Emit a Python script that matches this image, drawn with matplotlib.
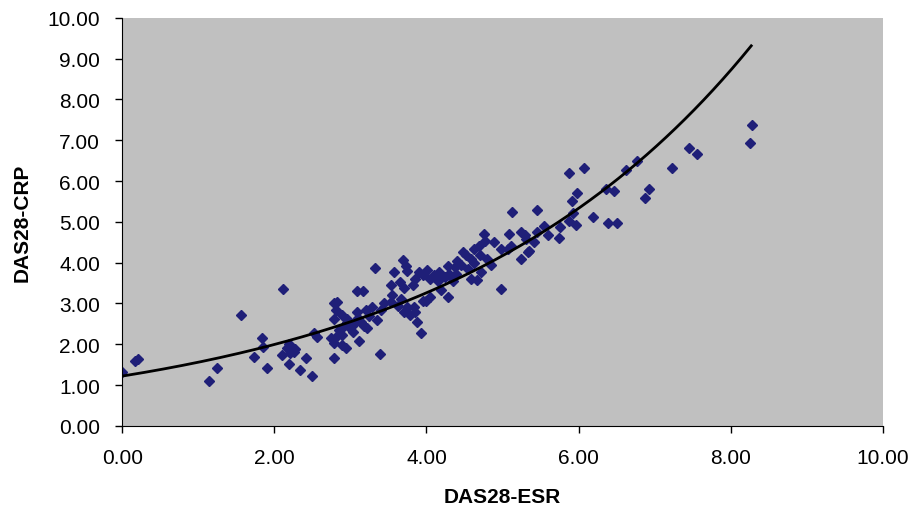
import numpy as np
import matplotlib
matplotlib.use("Agg")
import matplotlib.pyplot as plt
from matplotlib.ticker import FormatStrFormatter

plt.rcParams['font.family'] = ['Liberation Sans', 'DejaVu Sans']

# DAS28-ESR (x) vs DAS28-CRP (y)
esr = [0.00, 0.17, 0.21,
       1.14, 1.25, 1.56, 1.73, 1.84, 1.85, 1.91,
       2.11, 2.10, 2.19, 2.21, 2.27, 2.19, 2.17, 2.26, 2.34, 2.41, 2.50,
       2.52, 2.56,
       2.78, 2.74, 2.78, 2.89, 2.94, 3.11, 2.89, 3.00, 3.22, 3.14, 2.96, 2.89,
       2.78, 2.81, 2.78, 2.83, 3.09, 3.09, 3.17,
       2.85, 2.92, 3.05, 3.03, 2.82, 3.18, 2.95,
       3.29, 3.40, 3.44, 3.32, 3.39,
       3.53, 3.66, 3.55, 3.53, 3.65, 3.70, 3.57, 3.69, 3.73, 3.74, 3.82, 3.90,
       3.79, 3.75, 3.84, 3.88, 3.93,
       3.70, 3.62, 3.85, 3.95, 4.05, 4.00,
       4.01, 4.10, 4.17, 4.19, 4.28, 4.28, 4.37, 4.30, 4.39,
       4.48, 4.52, 4.58, 4.63, 4.69, 4.58, 4.67, 4.72,
       4.76, 4.77, 4.89, 4.98, 4.98,
       5.09, 5.11, 5.24, 5.31, 5.42, 5.46, 5.24, 5.33, 5.07, 5.30, 5.35,
       5.13, 5.46, 5.54, 5.75, 5.60, 5.74,
       5.87, 6.07, 5.98, 5.91, 5.93, 5.96, 5.88,
       6.19, 6.36, 6.47, 6.39, 6.50, 6.63, 6.77, 6.92, 6.87,
       7.23, 7.45, 7.56, 8.28, 8.25,
       4.45, 4.55, 4.62, 4.40, 4.80, 4.85, 4.70, 4.35, 4.25, 4.15, 4.05, 3.95, 3.85,
       3.25, 3.35, 3.20, 3.10]
crp = [1.33, 1.60, 1.63,
       1.11, 1.43, 2.71, 1.70, 2.15, 1.94, 1.43,
       3.35, 1.74, 2.00, 1.78, 1.89, 1.52, 1.90, 1.82, 1.37, 1.66, 1.23,
       2.27, 2.19,
       1.66, 2.15, 2.02, 1.98, 1.90, 2.07, 2.23, 2.39, 2.39, 2.55, 2.63, 2.72,
       2.63, 2.84, 3.00, 3.04, 2.80, 3.30, 3.30,
       2.35, 2.45, 2.50, 2.30, 2.20, 2.45, 2.55,
       2.92, 2.84, 3.00, 3.88, 1.76,
       3.04, 3.12, 3.20, 3.45, 3.53, 3.37, 3.77, 4.06, 3.93, 3.79, 3.45, 3.77,
       2.72, 2.92, 2.92, 2.55, 2.27,
       2.80, 2.95, 2.80, 3.05, 3.15, 3.05,
       3.81, 3.69, 3.77, 3.33, 3.16, 3.93, 3.89, 3.73, 3.73,
       4.26, 4.18, 4.10, 4.34, 4.42, 3.61, 3.57, 3.77,
       4.71, 4.54, 4.50, 4.34, 3.35,
       4.71, 4.42, 4.75, 4.59, 4.50, 4.75, 4.10, 4.26, 4.34, 4.67, 4.28,
       5.25, 5.29, 4.89, 4.87, 4.69, 4.60,
       6.19, 6.31, 5.71, 5.50, 5.22, 4.93, 5.03,
       5.11, 5.80, 5.76, 4.98, 4.98, 6.28, 6.48, 5.80, 5.59,
       6.31, 6.82, 6.66, 7.37, 6.93,
       3.95, 3.85, 4.00, 4.05, 4.10, 3.95, 4.20, 3.55, 3.65, 3.55, 3.60, 3.70, 3.60,
       2.70, 2.60, 2.85, 2.65]

# exponential trendline y = a * exp(b * x)
trend_a = 1.22
trend_b = 0.2458

fig = plt.figure(figsize=(9.12, 5.1), dpi=100)
ax = fig.add_axes([0.134, 0.163, 0.834, 0.8])
ax.set_facecolor('#c0c0c0')

ax.plot(esr, crp, linestyle='none', marker='D', ms=5.5, color='#1f1f78',
        markeredgecolor='#1f1f78')

xs = np.linspace(0, 8.27, 200)
ax.plot(xs, trend_a * np.exp(trend_b * xs), color='black', lw=2)

ax.set_xlim(0, 10)
ax.set_ylim(0, 10)
ax.set_xticks(np.arange(0, 11, 2))
ax.set_yticks(np.arange(0, 11, 1))
ax.xaxis.set_major_formatter(FormatStrFormatter('%.2f'))
ax.yaxis.set_major_formatter(FormatStrFormatter('%.2f'))
ax.tick_params(labelsize=15, length=5, width=1, color='black', pad=11)

ax.spines['top'].set_visible(False)
ax.spines['right'].set_visible(False)
ax.spines['left'].set_color('black')
ax.spines['bottom'].set_color('black')

ax.set_xlabel('DAS28-ESR', fontsize=15, fontweight='bold', labelpad=14)
ax.set_ylabel('DAS28-CRP', fontsize=15, fontweight='bold', labelpad=11)

fig.savefig('out.png', dpi=100)
